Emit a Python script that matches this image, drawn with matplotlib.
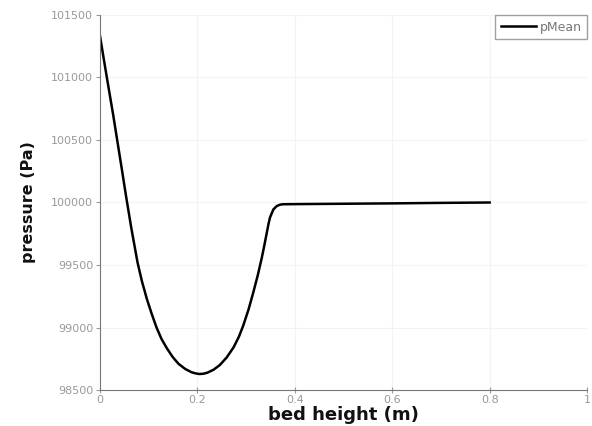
import matplotlib
matplotlib.use("Agg")
import matplotlib.pyplot as plt

bed_height = [0, 0.008, 0.017, 0.027, 0.036, 0.045, 0.053, 0.064, 0.077, 0.086,
              0.096, 0.106, 0.116, 0.126, 0.137, 0.149, 0.161, 0.175, 0.188, 0.196,
              0.204, 0.212, 0.22, 0.233, 0.246, 0.26, 0.274, 0.285, 0.294, 0.305,
              0.315, 0.324, 0.332, 0.337, 0.342, 0.346, 0.349, 0.356, 0.363, 0.37,
              0.376, 0.4, 0.5, 0.6, 0.7, 0.8]
p_mean = [101330, 101140, 100930, 100700, 100480, 100260, 100060, 99800, 99520,
          99370, 99230, 99110, 99000, 98910, 98835, 98765, 98710, 98668, 98642,
          98633, 98628, 98630, 98638, 98662, 98700, 98760, 98840, 98925, 99015,
          99145, 99285, 99420, 99555, 99650, 99750, 99830, 99880, 99945, 99972,
          99983, 99986, 99987, 99990, 99993, 99997, 100000]
x_ticks = [0, 0.2, 0.4, 0.6, 0.8, 1]
x_tick_labels = ["0", "0.2", "0.4", "0.6", "0.8", "1"]
y_ticks = [98500, 99000, 99500, 100000, 100500, 101000, 101500]

fig = plt.figure(figsize=(5.92, 4.26), dpi=100)
ax = fig.add_axes([0.169, 0.0845, 0.8226, 0.8803])
ax.plot(bed_height, p_mean, color="black", lw=1.8, label="pMean",
        solid_joinstyle="round")
ax.set_xlim(0, 1)
ax.set_ylim(98500, 101500)
ax.set_xticks(x_ticks)
ax.set_xticklabels(x_tick_labels)
ax.set_yticks(y_ticks)
ax.grid(True, color="#f3f3f3", lw=0.8)
for s in ["top", "right"]:
    ax.spines[s].set_visible(False)
for s in ["left", "bottom"]:
    ax.spines[s].set_color("#777777")
ax.tick_params(axis="both", colors="#999999", labelsize=8, length=3, direction="out", pad=2)
ax.tick_params(axis="x", direction="inout", length=5, pad=1)
ax.set_xlabel("bed height (m)", fontsize=13, fontweight="bold", color="#111111")
ax.xaxis.set_label_coords(0.5, -0.066)
ax.xaxis.label.set_va("center")
ax.set_ylabel("pressure (Pa)", fontsize=11.5, fontweight="bold", color="#111111")
ax.yaxis.set_label_coords(-0.146, 0.5)
ax.yaxis.label.set_va("center")
leg = ax.legend(loc="upper right", fontsize=9, frameon=True, fancybox=False,
                handlelength=2.8, borderpad=0.45, handletextpad=0.3,
                borderaxespad=0.0, bbox_to_anchor=(1.0, 1.0))
leg.get_frame().set_edgecolor("#888888")
leg.get_frame().set_linewidth(1.0)
for t in leg.get_texts():
    t.set_color("#777777")
fig.savefig("out.png", dpi=100)
